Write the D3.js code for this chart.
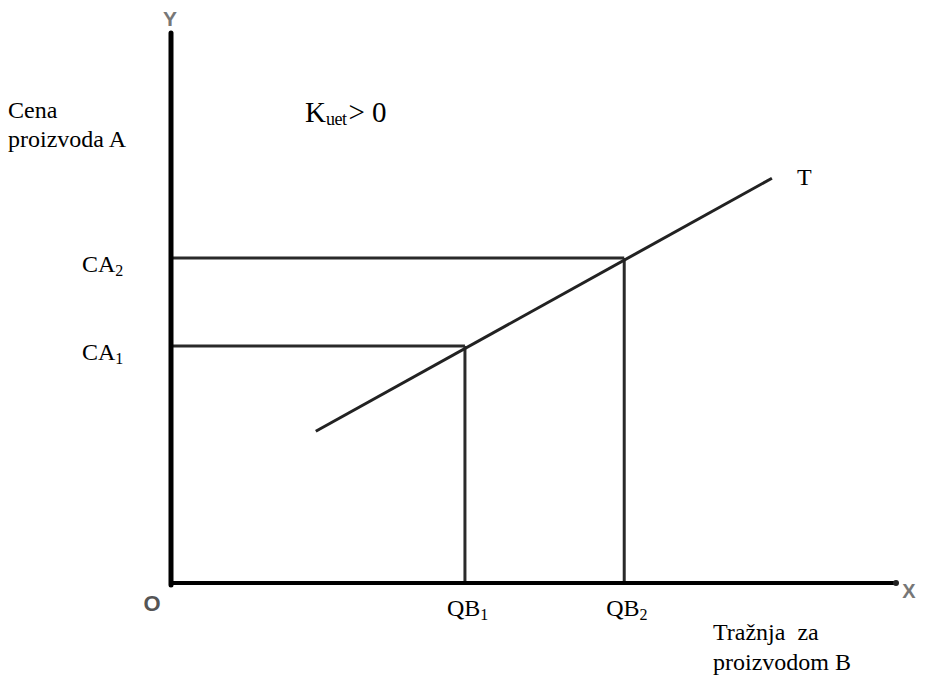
<!DOCTYPE html>
<html><head><meta charset="utf-8">
<script src="https://cdn.jsdelivr.net/npm/d3@7/dist/d3.min.js"></script>
<style>body{margin:0;background:#fff}svg{display:block}</style>
</head><body>
<script>
// Data (abstract units 0..100)
const lineT = [[20, 27.6], [83, 73.6]];
const points = [
  {name: "1", qb: 40.6, ca: 43.1},
  {name: "2", qb: 62.6, ca: 59.1}
];
const xTickLabels = ["QB", "QB"];
const xTickSubs = ["1", "2"];
const yTickLabels = ["CA", "CA"];
const yTickSubs = ["1", "2"];

const W = 930, H = 677;
const svg = d3.select("body").append("svg").attr("width", W).attr("height", H);
const x = d3.scaleLinear().domain([0, 100]).range([171, 895]);
const y = d3.scaleLinear().domain([0, 100]).range([583, 33]);
const sans = '"Liberation Sans", Arial, sans-serif';
const serif = '"Liberation Serif", "Times New Roman", serif';

// guide lines
points.forEach(p => {
  svg.append("line").attr("x1", x(0)).attr("x2", x(p.qb)).attr("y1", y(p.ca)).attr("y2", y(p.ca))
    .attr("stroke", "#2a2a2a").attr("stroke-width", 3);
  svg.append("line").attr("x1", x(p.qb)).attr("x2", x(p.qb)).attr("y1", y(p.ca)).attr("y2", y(0))
    .attr("stroke", "#2a2a2a").attr("stroke-width", 3);
});
// line T
svg.append("path").attr("d", d3.line().x(d => x(d[0])).y(d => y(d[1]))(lineT))
  .attr("stroke", "#222").attr("stroke-width", 3).attr("fill", "none");

// axes
svg.append("line").attr("x1", x(0)).attr("x2", x(0)).attr("y1", y(0) + 2).attr("y2", y(100))
  .attr("stroke", "#000").attr("stroke-width", 5).attr("stroke-linecap", "round");
svg.append("line").attr("x1", x(0) - 2).attr("x2", x(100)).attr("y1", y(0)).attr("y2", y(0))
  .attr("stroke", "#000").attr("stroke-width", 4);
svg.append("circle").attr("cx", x(100) + 1).attr("cy", y(0)).attr("r", 3).attr("fill", "#222");

// axis letters
svg.append("text").attr("x", x(0) - 1).attr("y", 26).attr("text-anchor", "middle")
  .style("font-family", sans).attr("font-weight", "bold")
  .attr("font-size", 21).attr("fill", "#777").text("Y");
svg.append("text").attr("x", 909).attr("y", 598).attr("text-anchor", "middle")
  .style("font-family", sans).attr("font-weight", "bold")
  .attr("font-size", 20).attr("fill", "#777").text("X");
svg.append("text").attr("x", 152).attr("y", 611).attr("text-anchor", "middle")
  .style("font-family", sans).attr("font-weight", "bold")
  .attr("font-size", 22).attr("fill", "#555").text("O");

// tick labels with subscripts
points.forEach((p, i) => {
  const t = svg.append("text").attr("x", 82).attr("y", y(p.ca) + 14)
    .style("font-family", serif).attr("font-size", 24).attr("fill", "#000");
  t.append("tspan").text(yTickLabels[i]);
  t.append("tspan").attr("font-size", 16).attr("dy", 4).text(yTickSubs[i]);
  const u = svg.append("text").attr("x", x(p.qb) - 18).attr("y", 616)
    .style("font-family", serif).attr("font-size", 24).attr("fill", "#000");
  u.append("tspan").text(xTickLabels[i]);
  u.append("tspan").attr("font-size", 16).attr("dy", 4).text(xTickSubs[i]);
});

// axis titles
const yt = svg.append("text").style("font-family", serif).attr("font-size", 24).attr("fill", "#000");
yt.append("tspan").attr("x", 8).attr("y", 118).text("Cena");
yt.append("tspan").attr("x", 8).attr("y", 147).text("proizvoda A");
const xt = svg.append("text").style("font-family", serif).attr("font-size", 24).attr("fill", "#000")
  .style("white-space", "pre");
xt.append("tspan").attr("x", 713).attr("y", 640).text("Tražnja  za");
xt.append("tspan").attr("x", 713).attr("y", 670).text("proizvodom B");

// K label
const k = svg.append("text").attr("x", 305).attr("y", 122).style("font-family", serif)
  .attr("font-size", 29).attr("fill", "#000");
k.append("tspan").text("K");
k.append("tspan").attr("font-size", 18).attr("dy", 3).attr("letter-spacing", -0.5).text("uet");
k.append("tspan").attr("dy", -3).attr("dx", 2).text("> 0");

// T label
svg.append("text").attr("x", 797).attr("y", 185).style("font-family", serif)
  .attr("font-size", 24).attr("fill", "#000").text("T");
</script>
</body></html>
